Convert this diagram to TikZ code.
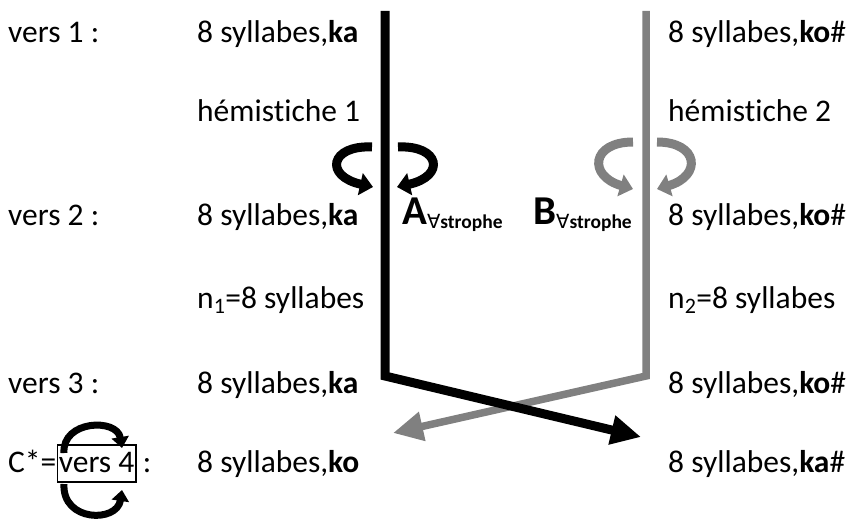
\documentclass[tikz,border=0pt]{standalone}
\usepackage{fontspec}
\setmainfont{Carlito}[Ligatures={NoCommon,NoRare},Contextuals=NoAlternate]
\newfontfamily\dejavu{DejaVu Sans}
\usetikzlibrary{arrows.meta}
\definecolor{lgray}{RGB}{128,128,128}
\begin{document}
\begin{tikzpicture}[x=1pt,y=-1pt,
  txt/.style={anchor=base west, inner sep=0pt, font=\fontsize{31.5}{38}\selectfont},
  bigbar/.style={line width=9pt, line join=miter, -{Triangle[length=30pt,width=28pt]}},
  curv/.style={line width=9pt, -{Triangle[length=13pt,width=22pt]}},
  smallcurv/.style={line width=7pt, -{Triangle[length=11pt,width=17pt]}}]
\newcommand{\strophesub}{\raisebox{-4pt}{\fontsize{19.5}{22}\selectfont{\dejavu ∀}\bfseries strophe}}
\useasboundingbox (0,0) rectangle (854,524);
% row 1
\node[txt] (v1) at (8,43) {vers 1 :};
\node[txt] (s1a) at (197,43) {8 syllabes,\textbf{ka}};
\node[txt] (s1b) at (668,43) {8 syllabes,\textbf{ko}\#};
% hemistiches
\node[txt] (h1) at (197,122) {hémist\kern0pt iche 1};
\node[txt] (h2) at (668,122) {hémist\kern0pt iche 2};
% row 2
\node[txt] (v2) at (8,225) {vers 2 :};
\node[txt] (s2a) at (197,225) {8 syllabes,\textbf{ka}};
\node[txt] (s2b) at (668,225) {8 syllabes,\textbf{ko}\#};
\node[txt] (A) at (402,224) {{\fontsize{41}{44}\selectfont\bfseries A}\strophesub};
\node[txt] (B) at (533,224) {{\fontsize{41}{44}\selectfont\bfseries B}\strophesub};
% n
\node[txt] (n1) at (197,308) {n\textsubscript{1}=8 syllabes};
\node[txt] (n2) at (668,308) {n\textsubscript{2}=8 syllabes};
% row 3
\node[txt] (v3) at (8,393) {vers 3 :};
\node[txt] (s3a) at (197,393) {8 syllabes,\textbf{ka}};
\node[txt] (s3b) at (668,393) {8 syllabes,\textbf{ko}\#};
% row 4
\node[txt] (c) at (8,472) {C*=};
\node[txt, draw, line width=1.6pt, inner xsep=1.5pt, inner ysep=0pt, text height=27pt, text depth=10pt] (v4) at (c.base east) {vers 4};
\node[txt] (col) at ([xshift=6pt]v4.base east) {:};
\node[txt] (s4a) at (197,472) {8 syllabes,\textbf{ko}};
\node[txt] (s4b) at (668,472) {8 syllabes,\textbf{ka}\#};
% bars
\coordinate (Atop) at (385,11);
\coordinate (Abend) at (385,376);
\coordinate (Aend) at (641,437);
\coordinate (Btop) at (646,11);
\coordinate (Bbend) at (646,376);
\coordinate (Bend) at (393,433);
\draw[bigbar, lgray, line width=7.5pt] (Btop) -- (Bbend) -- (Bend);
\draw[bigbar, black] (Atop) -- (Abend) -- (Aend);
% curved arrows
\draw[curv, black] (372,147) .. controls (330,145) and (324,176) .. (373,187);
\draw[curv, black] (398,147) .. controls (440,145) and (446,176) .. (397,187);
\draw[curv, lgray] (633,142) .. controls (591,142) and (588,176) .. (633,189);
\draw[curv, lgray] (657,142) .. controls (699,142) and (702,176) .. (657,189);
% C* arrows
\draw[smallcurv, black] (64,453) .. controls (62,420) and (117,418) .. (122,448);
\draw[smallcurv, black] (64,484) .. controls (62,522) and (117,523) .. (122,490);
\end{tikzpicture}
\end{document}
